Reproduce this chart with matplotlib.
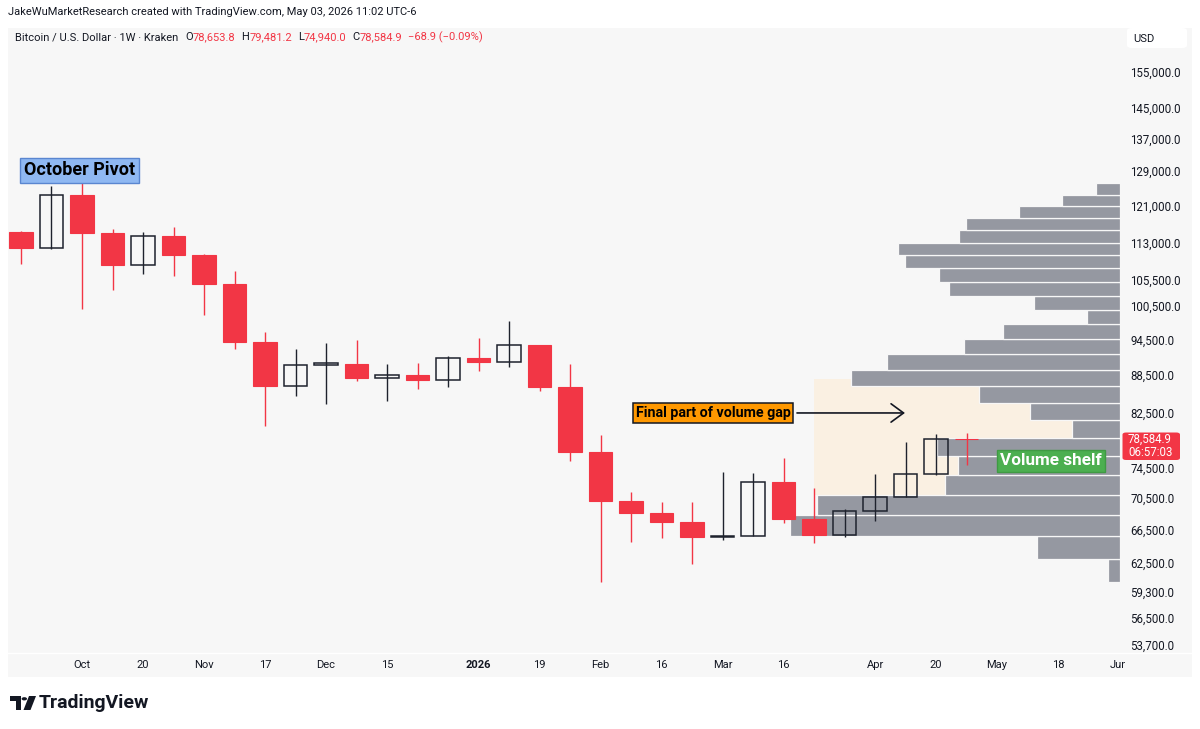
import matplotlib
matplotlib.use("Agg")
import matplotlib.pyplot as plt
import numpy as np
import pandas as pd
from matplotlib.patches import Rectangle, FancyBboxPatch, Polygon, Circle
from matplotlib.transforms import blended_transform_factory, Bbox, TransformedBbox
from matplotlib.ticker import NullLocator

plt.rcParams['font.family'] = ['Roboto', 'DejaVu Sans']

# ---------------- data ----------------
week_start = "2025-09-22"
opens  = [115225, 111988, 123530, 115076, 108523, 114440, 110489, 104659, 94068, 86715,
          90199, 90316, 88007, 88497, 87732, 91374, 90700, 93549, 86500, 76706,
          70133, 68594, 67423, 65580, 65750, 72644, 67761, 65787, 68850, 70600,
          73686, 78653.8]
highs  = [115503, 125604, 126200, 115931, 115289, 116296, 110600, 107265, 95824, 92910,
          93894, 94417, 90266, 90434, 91714, 94714, 97845, 93600, 90316, 79157,
          71232, 69925, 69925, 73918, 73781, 75860, 71841, 69065, 73686, 78225,
          79348, 79481.2]
lows   = [108664, 111718, 99987, 103562, 106671, 106277, 98884, 92859, 80530, 85173,
          83829, 87570, 84388, 86186, 86602, 89154, 89866, 85869, 75482, 60377,
          64940, 65495, 62388, 65218, 65650, 67262, 64820, 65543, 67586, 70550,
          73550, 74940.0]
closes = [111988, 123530, 115076, 108523, 114440, 110489, 104659, 94068, 86715, 90199,
          90434, 88007, 88497, 87732, 91374, 90700, 93549, 86507, 76706, 70133,
          68594, 67423, 65580, 65702, 72644, 67761, 65787, 68772, 70576, 73645,
          78654, 78584.9]

# volume profile rows, bottom (lowest price) to top (relative volume)
vp_volume = [12.3, 83, 330, 303.3, 175.3, 162.3, 183.3, 48.3, 90.3, 140.7,
             268.7, 233.3, 156, 117, 32.7, 86.3, 171.3, 181, 215, 222,
             161, 154.3, 100.7, 57.7, 24]

tick_dates  = ["2025-10-06", "2025-10-20", "2025-11-03", "2025-11-17", "2025-12-01",
               "2025-12-15", "2026-01-05", "2026-01-19", "2026-02-02", "2026-02-16",
               "2026-03-02", "2026-03-16", "2026-04-06", "2026-04-20", "2026-05-04",
               "2026-05-18", "2026-06-01"]
tick_labels = ["Oct", "20", "Nov", "17", "Dec", "15", "2026", "19", "Feb", "16",
               "Mar", "16", "Apr", "20", "May", "18", "Jun"]

price_ticks = [155000, 145000, 137000, 129000, 121000, 113000, 105500, 100500, 94500,
               88500, 82500, 74500, 70500, 66500, 62500, 59300, 56500, 53700]

RED = '#f23645'
DARK = '#131722'
GRAY_BAR = '#9598a1'
BG = '#f7f7f7'

W, H = 1200, 729
fig = plt.figure(figsize=(12, 7.29), dpi=100)
fig.patch.set_facecolor('white')

def fx(x):
    return x / W

def fy(y):
    return 1 - y / H

# chart panel background
fig.add_artist(Rectangle((fx(8), fy(677)), fx(1192) - fx(8), fy(28) - fy(677),
                         transform=fig.transFigure, facecolor=BG, edgecolor='none', zorder=0))

ax = fig.add_axes([fx(8), fy(652), fx(1120) - fx(8), fy(28) - fy(652)])
ax.set_facecolor('none')
ax.set_yscale('log')
ax.set_ylim(53011, 168143)
ax.set_xlim(-0.426, 36.03)
for s in ax.spines.values():
    s.set_visible(False)

start = pd.Timestamp(week_start)
xs = np.arange(len(opens))

# highlighted zone (volume gap)
ax.add_patch(Rectangle((26.0, 70877), 34.72 - 26.0, 87797 - 70877,
                       facecolor='#faf0e2', edgecolor='none', zorder=1))

# volume profile
lo, hi = min(lows), max(highs)
edges = np.linspace(lo, hi, len(vp_volume) + 1)
vmax = max(vp_volume)
trans = blended_transform_factory(ax.transAxes, ax.transData)
for k, v in enumerate(vp_volume):
    w = v / vmax * 0.2968
    ax.add_patch(Rectangle((1 - w, edges[k]), w, edges[k + 1] - edges[k], transform=trans,
                           facecolor=GRAY_BAR, edgecolor=BG, lw=0.9, zorder=2))

# candles
bw = 0.78
for x, o, h, l, c in zip(xs, opens, highs, lows, closes):
    down = c < o
    col = RED if down else '#1e222d'
    ax.plot([x, x], [l, h], color=col, lw=1.0, zorder=3, solid_capstyle='butt')
    bot, top = min(o, c), max(o, c)
    if down:
        ax.add_patch(Rectangle((x - bw / 2, bot), bw, top - bot, facecolor=RED,
                               edgecolor=RED, lw=0.8, zorder=4))
    else:
        ax.add_patch(Rectangle((x - bw / 2, bot), bw, top - bot, facecolor='none',
                               edgecolor='#1e222d', lw=1.1, zorder=4))

# axes ticks
ax.yaxis.set_minor_locator(NullLocator())
ax.set_yticks(price_ticks)
ax.set_yticklabels([f"{v:,.1f}" for v in price_ticks])
ax.yaxis.tick_right()
ax.tick_params(axis='y', length=0, pad=7.5, labelsize=8.3, labelcolor=DARK)

tick_x = [(pd.Timestamp(d) - start).days / 7 for d in tick_dates]
ax.set_xticks(tick_x)
ax.set_xticklabels(tick_labels)
ax.tick_params(axis='x', length=0, pad=5.5, labelsize=8.0, labelcolor=DARK)
clipbox = TransformedBbox(Bbox([[0, 0], [fx(1125), 1]]), fig.transFigure)
for lab in ax.get_xticklabels():
    if lab.get_text() == "2026":
        lab.set_fontweight('bold')
    lab.set_clip_box(clipbox)
    lab.set_clip_on(True)

# separator between plot and time axis
fig.add_artist(plt.Line2D([fx(8), fx(1192)], [fy(652.5), fy(652.5)], transform=fig.transFigure,
                          color='white', lw=1.0, zorder=1))

# annotations
ax.text(1.92, 129183, "October Pivot", ha='center', va='center', fontsize=13,
        fontweight='bold', color='#000000', zorder=6,
        bbox=dict(boxstyle='square,pad=0.2', facecolor='#8fb8f2', edgecolor='#5a86d0', lw=1.0))
ax.text(22.69, 82491, "Final part of volume gap", ha='center', va='center', fontsize=10.3,
        fontweight='bold', color='#000000', zorder=6,
        bbox=dict(boxstyle='square,pad=0.2', facecolor='#ff9800', edgecolor='#131722', lw=1.1))
ax.annotate('', xy=(28.98, 82491), xytext=(25.44, 82491), zorder=5,
            arrowprops=dict(arrowstyle='->,head_length=0.45,head_width=0.33', lw=1.2,
                            color='#131722', mutation_scale=20, shrinkA=0, shrinkB=0))
ax.text(33.77, 75482, "Volume shelf", ha='center', va='center', fontsize=12.3,
        fontweight='bold', color='white', zorder=6,
        bbox=dict(boxstyle='square,pad=0.2', facecolor='#4caf50', edgecolor='#3f9a43', lw=1.0))

# USD box
fig.add_artist(FancyBboxPatch((fx(1127), fy(48)), fx(1187) - fx(1127), fy(28) - fy(48),
                              boxstyle='round,pad=0,rounding_size=0.004', transform=fig.transFigure,
                              facecolor='white', edgecolor='none', zorder=2))
fig.text(fx(1133), fy(38.5), "USD", fontsize=8.0, color=DARK, va='center', ha='left', zorder=3)

# last price label
fig.add_artist(FancyBboxPatch((fx(1122.5), fy(460)), fx(1180) - fx(1122.5), fy(432.5) - fy(460),
                              boxstyle='round,pad=0,rounding_size=0.003', transform=fig.transFigure,
                              facecolor=RED, edgecolor='none', zorder=2))
fig.text(fx(1128), fy(439.5), f"{closes[-1]:,.1f}", fontsize=8.3, color='white',
         va='center', ha='left', zorder=3)
fig.text(fx(1128), fy(452), "06:57:03", fontsize=8.3, color='white',
         va='center', ha='left', zorder=3)

# header texts
fig.text(fx(8), fy(12), "JakeWuMarketResearch created with TradingView.com, May 03, 2026 11:02 UTC-6",
         fontsize=8.0, color=DARK, va='center', ha='left')

fig.canvas.draw()
r = fig.canvas.get_renderer()
chg = closes[-1] - opens[-1]
pct = chg / opens[-1] * 100
parts = [("Bitcoin / U.S. Dollar · 1W · Kraken", DARK, 7),
         ("O", DARK, 0), (f"{opens[-1]:,.1f}", RED, 6),
         ("H", DARK, 0), (f"{highs[-1]:,.1f}", RED, 6),
         ("L", DARK, 0), (f"{lows[-1]:,.1f}", RED, 6),
         ("C", DARK, 0), (f"{closes[-1]:,.1f}", RED, 6),
         (f"\u2212{abs(chg):.1f} (\u2212{abs(pct):.2f}%)", RED, 0)]
xcur = 15
for s, col, gap in parts:
    t = fig.text(fx(xcur), fy(37.5), s, fontsize=8.0, color=col, va='center', ha='left')
    bb = t.get_window_extent(renderer=r)
    xcur += bb.width + gap

# TradingView logo
fig.add_artist(Polygon([(fx(10), fy(696)), (fx(20.5), fy(696)), (fx(20.5), fy(710)),
                        (fx(15.5), fy(710)), (fx(15.5), fy(701)), (fx(10), fy(701))],
                       closed=True, transform=fig.transFigure, facecolor='#131722', edgecolor='none'))
fig.add_artist(Circle((fx(24.3), fy(698.8)), 2.7 / W, transform=fig.transFigure,
                      facecolor='#131722', edgecolor='none'))
fig.add_artist(Polygon([(fx(29), fy(696)), (fx(36), fy(696)), (fx(30.5), fy(710)), (fx(23.5), fy(710))],
                       closed=True, transform=fig.transFigure, facecolor='#131722', edgecolor='none'))
fig.text(fx(39), fy(703), "TradingView", fontsize=14, fontweight='bold', color='#131722',
         va='center', ha='left')

fig.savefig("out.png", dpi=100, facecolor='white')
